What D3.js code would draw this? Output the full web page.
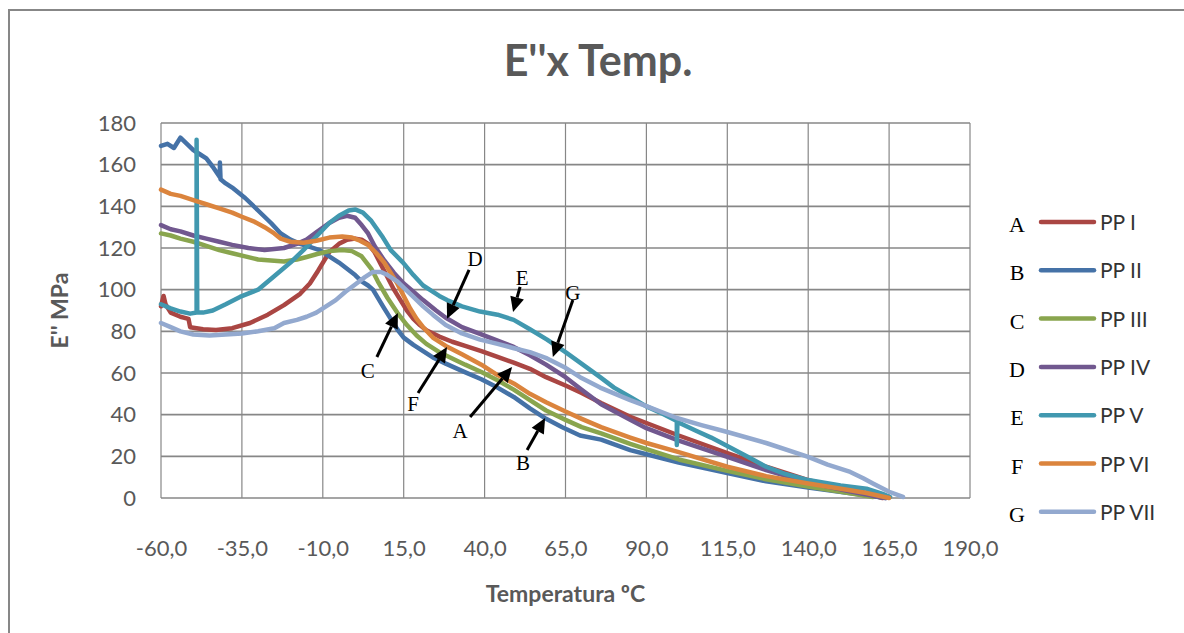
<!DOCTYPE html>
<html>
<head>
<meta charset="utf-8">
<script src="https://cdn.jsdelivr.net/npm/d3@7"></script>
<style>
  body { margin: 0; background: #fff; }
  svg { display: block; }
</style>
</head>
<body>
<svg id="chart"></svg>
<script>
// E'' (loss modulus) vs temperature, one [temp, MPa] list per sample
const ppI = [[-60,92],[-59.2,97],[-58.6,93],[-57,89],[-54,87],[-51.5,86],[-51,82],[-47,81],[-43,80.6],[-38,81.5],[-32.5,84],[-27,88],[-22,92.6],[-17,98],[-14,103],[-11.5,109],[-8,118],[-5,122],[-2.5,124],[0,124.5],[2,124],[4,122],[6,118],[8,112],[10,106],[12,100],[14,95],[16,90],[18,86],[20,83],[22,80.5],[26,77.5],[30,75],[34,73],[39,70.5],[44,67.7],[49,65],[54,62],[59,58],[65,54],[70,50.4],[76,45.6],[85,39],[90,36],[100,30],[115,21.6],[127,15],[140,8.6],[150,5],[158,2.4],[163,0]];
const ppII = [[-60,169],[-58,170],[-56,168],[-54,173],[-52,170],[-50,167],[-48,165],[-46,163],[-44,159],[-41.8,154],[-41.8,161],[-41.6,153],[-40,151],[-38,149],[-34,144],[-30,138],[-26,132],[-23,127],[-20,124],[-17,122],[-14,120.5],[-11,119],[-8,116],[-5,113],[-2.5,110],[0,107],[2,104],[4,102],[5.5,100],[8.6,92],[11,86],[13,81],[15,77],[18,73.5],[21,70.5],[24,67.5],[28,64.5],[33,61],[39,57],[44,53],[49,48.5],[54,43],[59,38],[64,34],[69.5,30],[76,28],[85,23],[90,21],[100,17],[115,12],[127,8],[140,5],[152,2.5],[164,0]];
const ppIII = [[-60,127],[-57,126],[-54,124.5],[-50,123],[-46,121],[-42,119],[-38,117.5],[-34,116],[-30,114.5],[-26,114],[-22,113.5],[-18,114.5],[-15,115.7],[-12,117],[-8,118.5],[-4,119],[-1,118.5],[2,116],[5,110],[7,104],[10,96],[13,89],[16,83],[19,78],[22,74],[26,70],[30,67],[34,64],[39,60.5],[44,56.5],[49,52],[54,47],[59,42],[65,37.5],[70,34],[76,31],[85,26],[90,23.5],[100,18.5],[115,13],[127,9],[140,5.5],[152,2.5],[160,0.5]];
const ppIV = [[-60,131],[-57,129],[-54,128],[-50,126],[-46,124.5],[-42,123],[-38,121.5],[-33,120],[-28,119],[-22,120],[-18,122],[-15,124],[-12,127.5],[-8,132],[-5,134.5],[-2.5,135.5],[0,134.5],[2,131],[4,127],[6,121],[9,114],[12,108],[15,103],[18,99],[21,95],[25,90],[28,86.5],[33,82],[39,78.5],[44,75.5],[49,72.5],[54,68.5],[59,64],[65,58],[70,52],[76,45],[85,37.5],[90,33.5],[100,27.5],[115,19.7],[127,13.4],[140,7.5],[152,3.5],[160,1],[164,0]];
const ppV = [[-60,93],[-57,91],[-54,89.5],[-51,88.5],[-49,89],[-49,172],[-48.8,89],[-47,89],[-44,90],[-40,93],[-35.6,96.5],[-30,100],[-25.4,106],[-20,113],[-16,119],[-12,125.5],[-8,132],[-5,135.5],[-2,138],[0,138.5],[2.4,137],[5,133],[8.6,125],[11,119],[14.8,113],[18,107],[21,102],[23,100],[26,97],[28.4,95],[33,92],[38.6,89.5],[44,88],[49,85.5],[54,81],[59.3,76],[65,70],[69.5,65],[75.7,58],[80,53],[85,48.5],[90,44],[95,40.5],[99.4,37],[99.4,25.5],[99.6,36.5],[105,32.5],[110,29],[115,25],[121,20],[127,15],[133,11.5],[140,8.6],[150,6],[158,4.5],[163,2],[165.3,0.5]];
const ppVI = [[-60,148],[-57,146],[-54,145],[-50,143],[-46,141],[-42,139],[-38,137],[-35,135],[-31,132.5],[-28,130],[-25,127],[-23,124.5],[-20,123],[-16,122.5],[-12,123.5],[-8,125],[-4,125.5],[-1,125],[1.5,123.5],[4,121.5],[6.5,117.6],[9,113],[11,108],[13,103],[15,97],[17,91],[19,86],[21,82],[24,77],[28,73],[33,69],[39,64],[44,59],[49,55],[54,50],[59,46],[65,41.5],[70,38],[76,34],[85,29],[90,26.4],[100,22],[115,15],[127,10.5],[140,7],[152,4],[158,2.4],[165,0]];
const ppVII = [[-60,84],[-57,82],[-54,80],[-50,78.5],[-45,78],[-40,78.5],[-35,79],[-30,80],[-25,81.5],[-22,84],[-18,85.5],[-15,87],[-12,89],[-9,92],[-6,95],[-3,99],[0,102.5],[3,106],[5.5,108.5],[8,108.5],[10,107],[13,104],[15,101],[18,96.5],[21,92],[24,88],[28,83],[33,79],[38.6,76],[44,74],[48.8,72],[54,70],[59.3,67],[65,62.5],[69.5,58],[75.7,53],[85,47],[90.2,44],[99.4,38.4],[107,35],[115,31.7],[127,26.4],[140,19.7],[146,16],[153,12.5],[157,9.5],[160,7],[165,3],[169.3,0.5]];

const seriesNames = ["PP I", "PP II", "PP III", "PP IV", "PP V", "PP VI", "PP VII"];
const seriesLetters = ["A", "B", "C", "D", "E", "F", "G"];
const seriesData = [ppI, ppII, ppIII, ppIV, ppV, ppVI, ppVII];
const seriesColors = ["#aa4643", "#4572a7", "#89a54e", "#71588f", "#4198af", "#db843d", "#93a9cf"];

const xTicks = [-60, -35, -10, 15, 40, 65, 90, 115, 140, 165, 190];
const yTicks = [0, 20, 40, 60, 80, 100, 120, 140, 160, 180];

// arrow annotations: letter, tip in data units, tail / label offset in px
const arrowLetters = ["D", "E", "G", "F", "A", "B", "C"];
const arrowTips = [[28.4, 86], [48.8, 89.3], [61.1, 67.7], [28.4, 72.5], [48.5, 62.9], [58.7, 38.4], [13.2, 88.8]];
const arrowTails = [[22, -49], [7, -25], [20, -57], [-29, 46], [-42, 50], [-18, 32], [-21, 44]];
const arrowLabels = [[28, -53], [9, -27], [20, -57], [-34, 64], [-52, 71], [-22, 52], [-30, 65]];

let width = 1184, height = 633;
let margin = {top: 123, right: 214, bottom: 135, left: 161};

let svg = d3.select("#chart")
    .attr("width", width)
    .attr("height", height);

let sans = "Lato, 'Open Sans', sans-serif";
let serif = "'Liberation Serif', 'DejaVu Serif', serif";
let textGrey = "#595959";
let gridGrey = "#878787";

// outer chart border (only top and left visible)
svg.append("path")
    .attr("d", "M9," + height + "V10H" + width)
    .attr("fill", "none")
    .attr("stroke", gridGrey)
    .attr("stroke-width", 2);

let x = d3.scaleLinear()
    .domain([-60, 190])
    .range([margin.left, width - margin.right]);
let y = d3.scaleLinear()
    .domain([0, 180])
    .range([height - margin.bottom, margin.top]);

// grid
let grid = svg.append("g").attr("class", "grid");
grid.selectAll(".vline")
    .data(xTicks)
    .enter().append("line")
    .attr("x1", d => x(d)).attr("x2", d => x(d))
    .attr("y1", y(0)).attr("y2", y(180))
    .attr("stroke", gridGrey)
    .attr("stroke-width", 1.2);
grid.selectAll(".hline")
    .data(yTicks)
    .enter().append("line")
    .attr("x1", x(-60)).attr("x2", x(190))
    .attr("y1", d => y(d)).attr("y2", d => y(d))
    .attr("stroke", gridGrey)
    .attr("stroke-width", 1.6);

// axes (labels only, Excel style)
let xAxis = d3.axisBottom(x)
    .tickValues(xTicks)
    .tickSize(0)
    .tickPadding(42)
    .tickFormat(d => d.toFixed(1).replace(".", ","));
let yAxis = d3.axisLeft(y)
    .tickValues(yTicks)
    .tickSize(0)
    .tickPadding(25);

svg.append("g")
    .attr("transform", "translate(0," + y(0) + ")")
    .call(xAxis)
    .call(g => g.select(".domain").remove())
    .selectAll("text")
    .attr("font-family", sans)
    .attr("font-size", 22)
    .attr("fill", textGrey);
svg.append("g")
    .attr("transform", "translate(" + x(-60) + ",0)")
    .call(yAxis)
    .call(g => g.select(".domain").remove())
    .selectAll("text")
    .attr("font-family", sans)
    .attr("font-size", 22)
    .attr("fill", textGrey);

// series
let line = d3.line()
    .x(d => x(d[0]))
    .y(d => y(d[1]));
svg.append("g")
    .selectAll("path")
    .data(seriesData)
    .enter().append("path")
    .attr("d", line)
    .attr("fill", "none")
    .attr("stroke", (d, i) => seriesColors[i])
    .attr("stroke-width", 4.5)
    .attr("stroke-linejoin", "round")
    .attr("stroke-linecap", "round");

// arrows
let arrows = svg.append("g").attr("class", "arrows");
arrowTips.forEach(function(tip, i) {
    let tx = x(tip[0]), ty = y(tip[1]);
    let sx = tx + arrowTails[i][0], sy = ty + arrowTails[i][1];
    let ang = Math.atan2(ty - sy, tx - sx);
    let headLen = 15, headW = 7;
    let bx = tx - headLen * Math.cos(ang), by = ty - headLen * Math.sin(ang);
    arrows.append("line")
        .attr("x1", sx).attr("y1", sy)
        .attr("x2", bx).attr("y2", by)
        .attr("stroke", "#000")
        .attr("stroke-width", 3);
    let px = -Math.sin(ang) * headW, py = Math.cos(ang) * headW;
    arrows.append("path")
        .attr("d", "M" + tx + "," + ty + "L" + (bx + px) + "," + (by + py) + "L" + (bx - px) + "," + (by - py) + "Z")
        .attr("fill", "#000");
    arrows.append("text")
        .attr("x", tx + arrowLabels[i][0])
        .attr("y", ty + arrowLabels[i][1])
        .attr("text-anchor", "middle")
        .attr("font-family", serif)
        .attr("font-size", 21)
        .text(arrowLetters[i]);
});

// title
svg.append("text")
    .attr("x", 598)
    .attr("y", 76)
    .attr("text-anchor", "middle")
    .attr("font-family", sans)
    .attr("font-weight", "bold")
    .attr("font-size", 43)
    .attr("fill", textGrey)
    .text("E''x Temp.");

// axis titles
svg.append("text")
    .attr("transform", "translate(" + ((x(-60) + x(190)) / 2) + "," + (height - 31) + ")")
    .attr("text-anchor", "middle")
    .attr("font-family", sans)
    .attr("font-weight", "bold")
    .attr("font-size", 23)
    .attr("fill", textGrey)
    .text("Temperatura ºC");
svg.append("text")
    .attr("transform", "translate(68," + ((y(0) + y(180)) / 2) + ") rotate(-90)")
    .attr("text-anchor", "middle")
    .attr("font-family", sans)
    .attr("font-weight", "bold")
    .attr("font-size", 23)
    .attr("fill", textGrey)
    .text("E'' MPa");

// legend
let legend = svg.append("g")
    .attr("transform", "translate(1017,222)");
let item = legend.selectAll(".item")
    .data(seriesNames)
    .enter().append("g")
    .attr("class", "item")
    .attr("transform", (d, i) => "translate(0," + i * 48.3 + ")");
item.append("text")
    .attr("y", 10)
    .attr("text-anchor", "middle")
    .attr("font-family", serif)
    .attr("font-size", 22)
    .text((d, i) => seriesLetters[i]);
item.append("line")
    .attr("x1", 24).attr("x2", 77)
    .attr("stroke", (d, i) => seriesColors[i])
    .attr("stroke-width", 4.5)
    .attr("stroke-linecap", "round");
item.append("text")
    .attr("x", 83)
    .attr("y", 8)
    .attr("font-family", sans)
    .attr("font-size", 21)
    .attr("fill", "#333")
    .text(d => d);
</script>
</body>
</html>
